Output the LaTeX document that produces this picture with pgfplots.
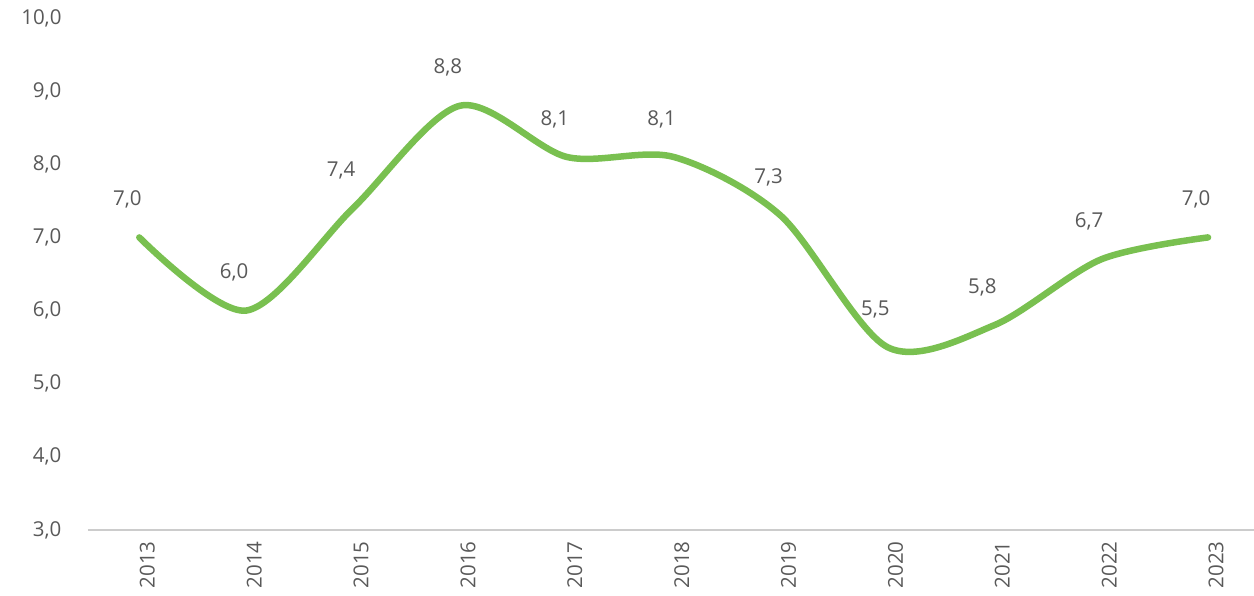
\documentclass[border=0pt]{standalone}
\usepackage{pgfplots}
\pgfplotsset{compat=1.18}
\usepackage{fontspec}
\setmainfont{Open Sans}
\definecolor{linegreen}{RGB}{121,192,80}
\definecolor{txt}{RGB}{89,89,89}
\definecolor{axgray}{RGB}{204,204,204}

\begin{document}
\begin{tikzpicture}
\begin{axis}[
  name=ax, scale only axis, width=1166pt, height=512pt,
  xmin=-0.48, xmax=10.43, ymin=3, ymax=10,
  xtick={0,...,10}, xticklabels={2013,2014,2015,2016,2017,2018,2019,2020,2021,2022,2023},
  ytick={3,4,...,10},
  axis x line*=bottom, axis y line*=left,
  y axis line style={draw=none},
  x axis line style={draw=axgray, line width=1.5pt, -},
  major tick length=0pt,
  tick label style={font=\fontsize{20.5}{24}\selectfont, text=txt},
  /pgf/number format/assume math mode=true,
  yticklabel={\pgfmathprintnumber[fixed,fixed zerofill,precision=1,use comma]{\tick}},
  yticklabel style={xshift=-23pt},
  xticklabel style={xshift=8pt, yshift=-8pt, rotate=90, anchor=east},
  clip=false,
]
\addplot[linegreen, line width=6.5pt, line cap=round, smooth, tension=0.5,
  nodes near coords={\pgfmathprintnumber[fixed,fixed zerofill,precision=1,use comma,assume math mode=true]{\pgfplotspointmeta}},
  every node near coord/.append style={anchor=center, xshift=-12pt, yshift=38pt,
    font=\fontsize{20.5}{24}\selectfont, text=txt}]
  coordinates {(0,7.0) (1,6.0) (2,7.4) (3,8.8) (4,8.1) (5,8.1) (6,7.3) (7,5.5) (8,5.8) (9,6.7) (10,7.0)};
\end{axis}
\pgfresetboundingbox
\path[use as bounding box] ([xshift=-88pt,yshift=-66pt]ax.south west) rectangle ([yshift=18pt]ax.north east);
\end{tikzpicture}
\end{document}
